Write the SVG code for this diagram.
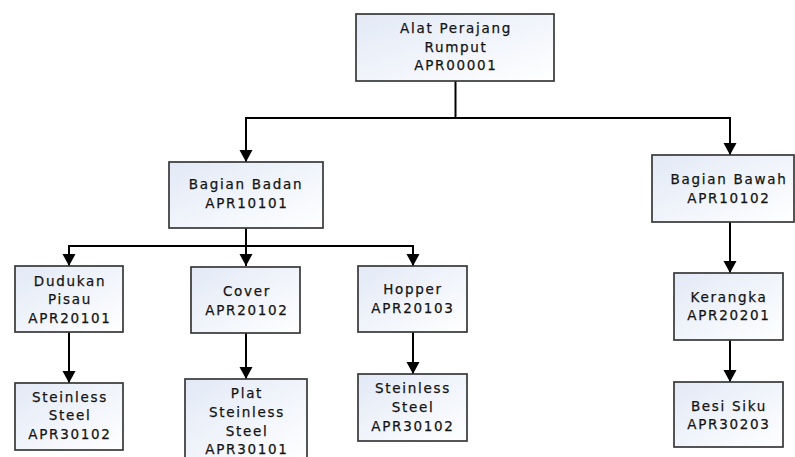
<svg xmlns="http://www.w3.org/2000/svg" width="795" height="457" viewBox="0 0 795 457">
  <style>
    .box { fill: url(#boxFill); stroke: #383838; stroke-width: 1.7; }
    .lbl { font-family: "DejaVu Sans", Verdana, sans-serif; font-size: 13.5px; letter-spacing: 1.7px; fill: #141414; stroke: #141414; stroke-width: 0.25; text-anchor: middle; }
    .wire { fill: none; stroke: #000; stroke-width: 2; }
  </style>
  <defs>
    <linearGradient id="boxFill" x1="0" y1="0" x2="1" y2="1">
      <stop offset="0" stop-color="#e2e9f6"/>
      <stop offset="1" stop-color="#ffffff"/>
    </linearGradient>
    <marker id="arrow" markerUnits="userSpaceOnUse" markerWidth="14" markerHeight="14" refX="12" refY="6.5" orient="auto">
      <path d="M0,0 L12,6.5 L0,13 Z" fill="#000"/>
    </marker>
  </defs>

  <g id="connectors">
    <!-- root to level 1 -->
    <polyline class="wire" points="455.5,81 455.5,118 246,118 246,162" marker-end="url(#arrow)"/>
    <polyline class="wire" points="455.5,118 730,118 730,155" marker-end="url(#arrow)"/>
    <!-- Bagian Badan to level 2 -->
    <polyline class="wire" points="246,228 246,266" marker-end="url(#arrow)"/>
    <polyline class="wire" points="246,246 69,246 69,266" marker-end="url(#arrow)"/>
    <polyline class="wire" points="246,246 413,246 413,266" marker-end="url(#arrow)"/>
    <!-- level 2 to level 3 -->
    <line class="wire" x1="69" y1="332" x2="69" y2="383" marker-end="url(#arrow)"/>
    <line class="wire" x1="246" y1="333" x2="246" y2="379" marker-end="url(#arrow)"/>
    <line class="wire" x1="413" y1="332" x2="413" y2="374" marker-end="url(#arrow)"/>
    <!-- Bagian Bawah branch -->
    <line class="wire" x1="730" y1="222" x2="730" y2="273" marker-end="url(#arrow)"/>
    <line class="wire" x1="730" y1="340" x2="730" y2="382" marker-end="url(#arrow)"/>
  </g>

  <g id="n-root">
    <rect class="box" x="356" y="14" width="198" height="67"/>
    <text class="lbl" x="456" y="33">Alat Perajang</text>
    <text class="lbl" x="456" y="52">Rumput</text>
    <text class="lbl" x="456" y="70">APR00001</text>
  </g>

  <g id="n-badan">
    <rect class="box" x="169" y="162" width="154" height="66"/>
    <text class="lbl" x="246" y="189">Bagian Badan</text>
    <text class="lbl" x="247" y="208">APR10101</text>
  </g>

  <g id="n-bawah">
    <rect class="box" x="652" y="155" width="142" height="67"/>
    <text class="lbl" x="729" y="184">Bagian Bawah</text>
    <text class="lbl" x="729" y="203">APR10102</text>
  </g>

  <g id="n-dudukan">
    <rect class="box" x="15" y="266" width="108" height="66"/>
    <text class="lbl" x="70" y="286">Dudukan</text>
    <text class="lbl" x="70" y="304">Pisau</text>
    <text class="lbl" x="70" y="323">APR20101</text>
  </g>

  <g id="n-cover">
    <rect class="box" x="191" y="267" width="109" height="66"/>
    <text class="lbl" x="247" y="296">Cover</text>
    <text class="lbl" x="247" y="315">APR20102</text>
  </g>

  <g id="n-hopper">
    <rect class="box" x="358" y="266" width="109" height="66"/>
    <text class="lbl" x="413" y="294">Hopper</text>
    <text class="lbl" x="413" y="313">APR20103</text>
  </g>

  <g id="n-steel-1">
    <rect class="box" x="15" y="383" width="108" height="67"/>
    <text class="lbl" x="70" y="402">Steinless</text>
    <text class="lbl" x="70" y="420">Steel</text>
    <text class="lbl" x="70" y="439">APR30102</text>
  </g>

  <g id="n-plat">
    <rect class="box" x="185" y="379" width="122" height="82"/>
    <text class="lbl" x="247" y="398">Plat</text>
    <text class="lbl" x="247" y="417">Steinless</text>
    <text class="lbl" x="247" y="436">Steel</text>
    <text class="lbl" x="247" y="454">APR30101</text>
  </g>

  <g id="n-steel-2">
    <rect class="box" x="358" y="374" width="109" height="67"/>
    <text class="lbl" x="413" y="393">Steinless</text>
    <text class="lbl" x="413" y="412">Steel</text>
    <text class="lbl" x="413" y="431">APR30102</text>
  </g>

  <g id="n-kerangka">
    <rect class="box" x="674" y="273" width="109" height="67"/>
    <text class="lbl" x="729" y="302">Kerangka</text>
    <text class="lbl" x="729" y="320">APR20201</text>
  </g>

  <g id="n-besi">
    <rect class="box" x="674" y="382" width="109" height="65"/>
    <text class="lbl" x="729" y="411">Besi Siku</text>
    <text class="lbl" x="729" y="429">APR30203</text>
  </g>
</svg>
